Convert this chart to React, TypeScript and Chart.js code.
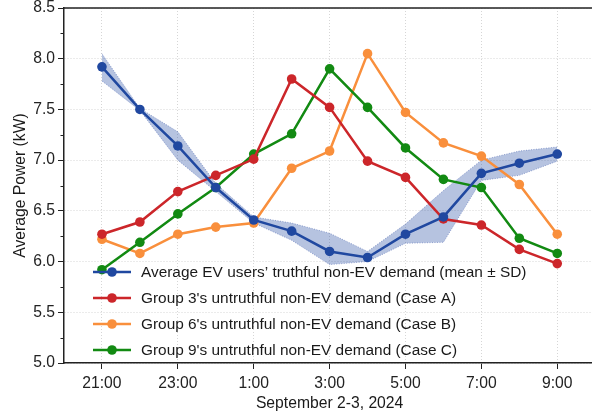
import { useEffect, useRef } from 'react';
import { Chart, registerables } from 'chart.js';

Chart.register(...registerables);

const categories = ['21:00', '22:00', '23:00', '0:00', '1:00', '2:00', '3:00', '4:00', '5:00', '6:00', '7:00', '8:00', '9:00'];
const tickLabels = ['21:00', '23:00', '1:00', '3:00', '5:00', '7:00', '9:00'];
const tickIndices = [0, 2, 4, 6, 8, 10, 12];
const yMinorTicks = [5.25, 5.75, 6.25, 6.75, 7.25, 7.75, 8.25];

const meanValues = [7.92, 7.5, 7.14, 6.73, 6.41, 6.3, 6.1, 6.04, 6.27, 6.44, 6.87, 6.97, 7.06];
const upperValues = [8.05, 7.51, 7.28, 6.77, 6.44, 6.38, 6.28, 6.1, 6.37, 6.7, 7.0, 7.09, 7.13];
const lowerValues = [7.78, 7.49, 7.0, 6.69, 6.38, 6.21, 5.97, 6.0, 6.18, 6.19, 6.8, 6.85, 6.99];
const caseA = [6.27, 6.39, 6.69, 6.85, 7.01, 7.8, 7.52, 6.99, 6.83, 6.42, 6.36, 6.12, 5.98];
const caseB = [6.22, 6.08, 6.27, 6.34, 6.38, 6.92, 7.09, 8.05, 7.47, 7.17, 7.04, 6.76, 6.27];
const caseC = [5.92, 6.19, 6.47, 6.73, 7.06, 7.26, 7.9, 7.52, 7.12, 6.81, 6.73, 6.23, 6.08];

const legendLabels = [
  'Average EV users\u2019 truthful non-EV demand (mean \u00b1 SD)',
  "Group 3's untruthful non-EV demand (Case A)",
  "Group 6's untruthful non-EV demand (Case B)",
  "Group 9's untruthful non-EV demand (Case C)",
];

const BLUE = '#2048a0';
const RED = '#cc262a';
const ORANGE = '#f98f3c';
const GREEN = '#128a12';
const FONT = '"Liberation Sans", Arial, sans-serif';
const AXIS_FONT_SIZE = 15.7;
const LEGEND_FONT_SIZE = 15.4;

const toPts = (arr: number[]) => arr.map((y, i) => ({ x: i, y }));

const decorPlugin = {
  id: 'decor',
  afterDraw(chart: any) {
    const { ctx, chartArea: ca, scales } = chart;
    ctx.save();
    // top spine
    ctx.strokeStyle = '#222';
    ctx.lineWidth = 1.5;
    ctx.beginPath();
    ctx.moveTo(ca.left, ca.top);
    ctx.lineTo(ca.right, ca.top);
    ctx.stroke();
    // minor y ticks
    ctx.lineWidth = 1;
    for (const v of yMinorTicks) {
      const y = Math.round(scales.y.getPixelForValue(v)) + 0.5;
      ctx.beginPath();
      ctx.moveTo(ca.left - 3.5, y);
      ctx.lineTo(ca.left, y);
      ctx.stroke();
    }
    // legend
    const colors = [BLUE, RED, ORANGE, GREEN];
    const offsets = [91, 65, 39, 13];
    ctx.font = `${LEGEND_FONT_SIZE}px ${FONT}`;
    ctx.textBaseline = 'middle';
    ctx.textAlign = 'left';
    legendLabels.forEach((label, i) => {
      const y = ca.bottom - offsets[i];
      ctx.strokeStyle = colors[i];
      ctx.lineWidth = 2.5;
      ctx.beginPath();
      ctx.moveTo(ca.left + 29, y);
      ctx.lineTo(ca.left + 67, y);
      ctx.stroke();
      ctx.fillStyle = colors[i];
      ctx.beginPath();
      ctx.arc(ca.left + 48, y, 4.8, 0, Math.PI * 2);
      ctx.fill();
      ctx.fillStyle = '#1a1a1a';
      ctx.fillText(label, ca.left + 77, y + 1);
    });
    ctx.restore();
  },
};

export default function App() {
  const ref = useRef<HTMLCanvasElement>(null);

  useEffect(() => {
    if (!ref.current) return;
    const lineDs = (label: string, data: number[], color: string, order: number) => ({
      label,
      data: toPts(data),
      borderColor: color,
      backgroundColor: color,
      borderWidth: 2.5,
      pointRadius: 4.8,
      pointHoverRadius: 4.8,
      pointBorderWidth: 0,
      pointBackgroundColor: color,
      fill: false,
      order,
    });
    const chart = new Chart(ref.current, {
      type: 'line',
      data: {
        datasets: [
          {
            label: 'upper',
            data: toPts(upperValues),
            borderColor: 'rgba(40,70,160,0.55)',
            borderWidth: 0.8,
            borderDash: [1, 1.5],
            pointRadius: 0,
            fill: false,
            order: 10,
          },
          {
            label: 'lower',
            data: toPts(lowerValues),
            borderColor: 'rgba(40,70,160,0.55)',
            borderWidth: 0.8,
            borderDash: [1, 1.5],
            pointRadius: 0,
            backgroundColor: 'rgba(32,72,160,0.33)',
            fill: '-1',
            order: 9,
          },
          lineDs(legendLabels[2], caseB, ORANGE, 4),
          lineDs(legendLabels[3], caseC, GREEN, 3),
          lineDs(legendLabels[1], caseA, RED, 2),
          lineDs(legendLabels[0], meanValues, BLUE, 1),
        ] as any,
      },
      options: {
        animation: false,
        responsive: false,
        maintainAspectRatio: false,
        layout: { padding: { left: 0, top: 8, right: 4, bottom: 0 } },
        plugins: {
          legend: { display: false },
          tooltip: { enabled: false },
          filler: { propagate: false },
        },
        scales: {
          x: {
            type: 'linear',
            min: -1,
            max: 13,
            afterBuildTicks: (scale: any) => {
              scale.ticks = tickIndices.map((v) => ({ value: v }));
            },
            afterFit: (scale: any) => {
              scale.height = 57;
              scale.paddingLeft = 0;
              scale.paddingRight = 0;
            },
            ticks: {
              autoSkip: false,
              maxRotation: 0,
              padding: 5,
              color: '#222',
              font: { family: FONT, size: AXIS_FONT_SIZE },
              callback: (_v: any, i: number) => tickLabels[i] ?? categories[tickIndices[i]],
            },
            grid: {
              color: '#d6d6d6',
              lineWidth: 1,
              tickColor: '#222',
              tickLength: 6,
              tickWidth: 1,
            },
            border: { display: true, color: '#222', width: 1.5, dash: [1, 2] },
            title: {
              display: true,
              text: 'September 2-3, 2024',
              color: '#1a1a1a',
              font: { family: FONT, size: AXIS_FONT_SIZE },
              padding: { top: 0, bottom: 7 },
            },
          },
          y: {
            min: 5,
            max: 8.5,
            afterFit: (scale: any) => {
              scale.width = 64;
              scale.paddingTop = 0;
              scale.paddingBottom = 0;
            },
            ticks: {
              stepSize: 0.5,
              padding: 3,
              color: '#222',
              font: { family: FONT, size: AXIS_FONT_SIZE },
              callback: (v: any) => Number(v).toFixed(1),
            },
            grid: {
              color: '#d6d6d6',
              lineWidth: 1,
              tickColor: '#222',
              tickLength: 6,
              tickWidth: 1,
            },
            border: { display: true, color: '#222', width: 1.5, dash: [1, 2] },
            title: {
              display: true,
              text: 'Average Power (kW)',
              color: '#1a1a1a',
              font: { family: FONT, size: AXIS_FONT_SIZE },
              padding: { top: 11, bottom: 0 },
            },
          },
        },
      },
      plugins: [decorPlugin],
    });
    return () => chart.destroy();
  }, []);

  return (
    <div style={{ position: 'fixed', left: 0, top: 0, width: 592, height: 420, overflow: 'hidden', background: '#fff' }}>
      <canvas ref={ref} width={600} height={420} style={{ display: 'block', width: 600, height: 420 }} />
    </div>
  );
}
